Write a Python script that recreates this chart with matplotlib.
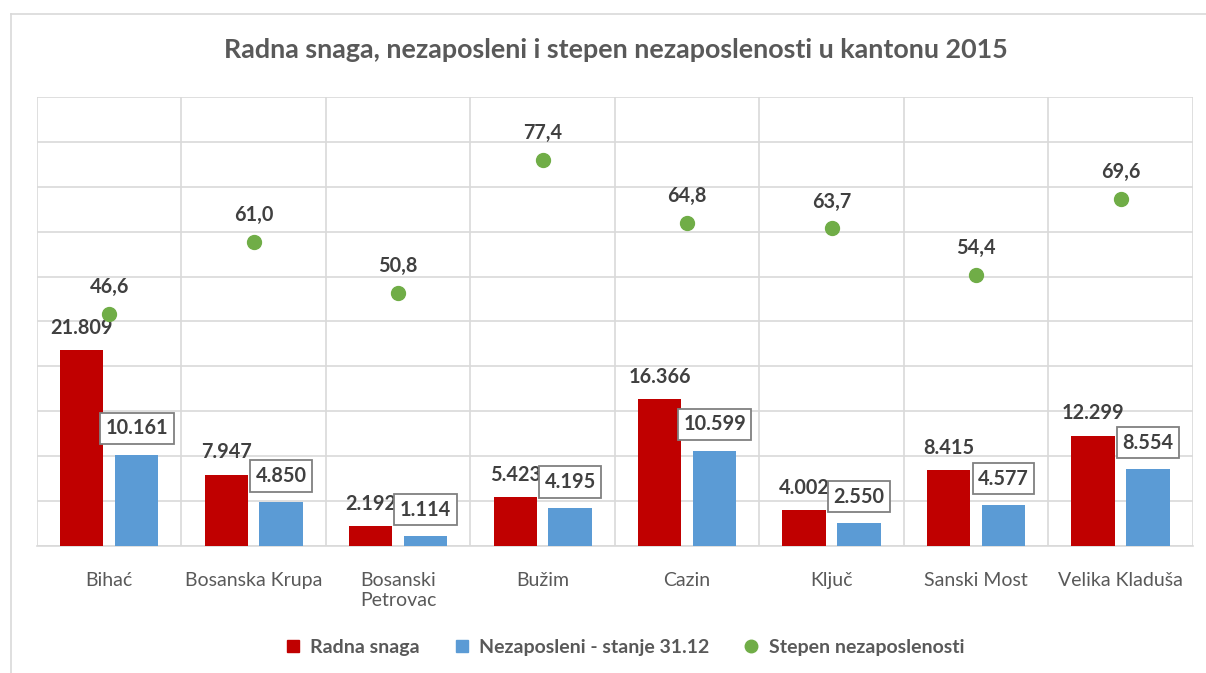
import matplotlib.pyplot as plt
import numpy as np
from matplotlib.lines import Line2D

plt.rcParams['font.family'] = ['Lato', 'DejaVu Sans']

opcine = ["Bihać", "Bosanska Krupa", "Bosanski\nPetrovac", "Bužim", "Cazin",
          "Ključ", "Sanski Most", "Velika Kladuša"]
radna_snaga = [21809, 7947, 2192, 5423, 16366, 4002, 8415, 12299]
nezaposleni = [10161, 4850, 1114, 4195, 10599, 2550, 4577, 8554]
stepen = [46.6, 61.0, 50.8, 77.4, 64.8, 63.7, 54.4, 69.6]

crvena = "#c00000"
plava = "#5b9bd5"
zelena = "#70ad47"
tekst = "#404040"
siva = "#d9d9d9"

fig = plt.figure(figsize=(12.06, 6.73), dpi=100)
ax = fig.add_axes([0.0307, 0.1887, 0.9583, 0.6672])
ax2 = ax.twinx()

x = np.arange(len(opcine))
w = 0.3
off = 0.19

ax.bar(x - off, radna_snaga, w, color=crvena, zorder=3)
ax.bar(x + off, nezaposleni, w, color=plava, zorder=3)
ax2.scatter(x, stepen, s=100, color=zelena, zorder=4)

ax.set_ylim(0, 50000)
ax2.set_ylim(0, 90)
ax.set_xlim(-0.5, len(opcine) - 0.5)

# mreza
ax.set_yticks(np.arange(0, 50001, 5000))
ax.set_xticks(np.arange(-0.5, len(opcine), 1), minor=False)
ax.grid(True, color=siva, linewidth=1.2, zorder=0)
ax.tick_params(length=0, labelleft=False, labelbottom=False)
ax2.set_yticks([])
for a in (ax, ax2):
    for s in a.spines.values():
        s.set_visible(False)
ax.spines['bottom'].set_visible(True)
ax.spines['bottom'].set_color(siva)
ax.spines['bottom'].set_linewidth(1.2)

for i, name in enumerate(opcine):
    ax.annotate(name, (i, 0), xytext=(0, -19), textcoords='offset points',
                ha='center', va='top', fontsize=14, color="#595959",
                linespacing=1.2)

for i in range(len(opcine)):
    ax.annotate(f"{radna_snaga[i]/1000:.3f}", (i - off, radna_snaga[i]),
                xytext=(0, 9), textcoords='offset points', ha='center',
                va='bottom', fontsize=14.3, fontweight='bold', color=tekst)
    ax.annotate(f"{nezaposleni[i]/1000:.3f}", (i + off, nezaposleni[i]),
                xytext=(0, 19), textcoords='offset points', ha='center',
                va='center', fontsize=14.3, fontweight='bold', color=tekst,
                bbox=dict(boxstyle='square,pad=0.28', fc='white', ec='#808080', lw=1.3),
                zorder=5)
    ax2.annotate(f"{stepen[i]:.1f}".replace('.', ','), (i, stepen[i]),
                 xytext=(0, 12), textcoords='offset points', ha='center',
                 va='bottom', fontsize=14.3, fontweight='bold', color=tekst)

fig.text(0.511, 0.925, "Radna snaga, nezaposleni i stepen nezaposlenosti u kantonu 2015",
         ha='center', va='center', fontsize=19.4, fontweight='bold', color="#595959")

handles = [
    Line2D([], [], marker='s', linestyle='none', color=crvena, markersize=8.5),
    Line2D([], [], marker='s', linestyle='none', color=plava, markersize=8.5),
    Line2D([], [], marker='o', linestyle='none', color=zelena, markersize=9),
]
labels = ["Radna snaga", "Nezaposleni - stanje 31.12", "Stepen nezaposlenosti"]
leg = fig.legend(handles, labels, loc='center', bbox_to_anchor=(0.513, 0.038), ncol=3,
                 frameon=False, handletextpad=-0.1, columnspacing=1.15,
                 prop={'size': 14, 'weight': 'bold'})
for t in leg.get_texts():
    t.set_color("#595959")

# okvir grafikona
fig.add_artist(Line2D([11/1206, 11/1206], [0, 1 - 14/673], color=siva, lw=1.2))
fig.add_artist(Line2D([11/1206, 1], [1 - 14/673, 1 - 14/673], color=siva, lw=1.2))

fig.savefig("out.png", dpi=100)
